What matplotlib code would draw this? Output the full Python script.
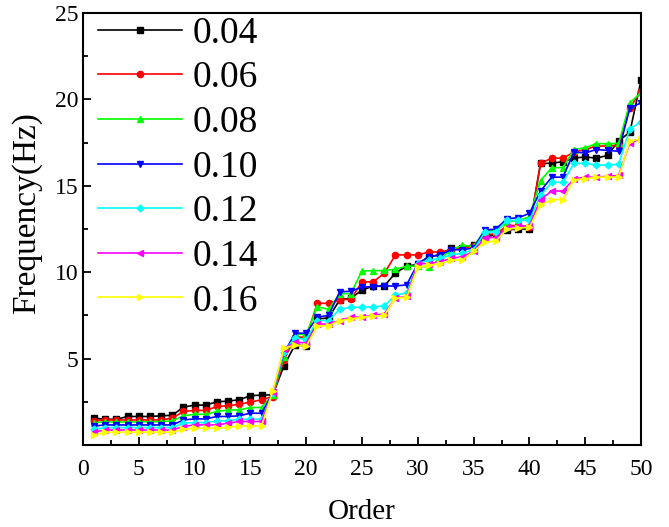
import matplotlib
matplotlib.use("Agg")
import matplotlib.pyplot as plt
from matplotlib.ticker import MultipleLocator

orders = list(range(1, 51))

f_004 = [1.55, 1.49, 1.49, 1.65, 1.65, 1.65, 1.69, 1.72, 2.19, 2.31,
         2.31, 2.50, 2.54, 2.62, 2.85, 2.89, 2.90, 4.57, 5.80, 5.72,
         7.30, 7.35, 8.40, 8.50, 8.96, 9.20, 9.20, 9.96, 10.35, 10.45,
         10.90, 11.00, 11.40, 11.40, 11.60, 12.00, 12.20, 12.45, 12.50, 12.50,
         16.30, 16.30, 16.40, 16.60, 16.67, 16.60, 16.76, 17.60, 18.10, 21.10]
f_006 = [1.41, 1.45, 1.45, 1.45, 1.45, 1.45, 1.45, 1.55, 1.94, 2.00,
         2.00, 2.23, 2.27, 2.36, 2.48, 2.62, 2.80, 4.90, 6.24, 6.24,
         8.20, 8.20, 8.40, 8.44, 9.44, 9.44, 9.94, 11.00, 11.00, 11.00,
         11.17, 11.17, 11.30, 11.40, 11.50, 12.20, 12.20, 12.70, 12.70, 12.60,
         16.30, 16.60, 16.60, 16.95, 17.10, 17.30, 17.30, 17.35, 19.50, 20.50]
f_008 = [1.30, 1.33, 1.33, 1.33, 1.33, 1.35, 1.35, 1.40, 1.69, 1.78,
         1.78, 1.94, 2.03, 2.03, 2.17, 2.17, 2.90, 5.10, 6.40, 6.40,
         8.00, 7.85, 8.76, 8.76, 10.08, 10.08, 10.10, 10.17, 10.35, 10.35,
         10.30, 10.80, 11.30, 11.55, 11.50, 12.40, 12.40, 12.90, 13.00, 13.20,
         15.30, 16.05, 16.05, 17.10, 17.20, 17.44, 17.44, 17.45, 19.80, 20.40]
f_010 = [1.10, 1.16, 1.16, 1.16, 1.16, 1.16, 1.16, 1.16, 1.45, 1.51,
         1.51, 1.65, 1.65, 1.69, 1.84, 1.84, 3.00, 5.30, 6.47, 6.47,
         7.40, 7.50, 8.86, 8.90, 9.13, 9.17, 9.20, 9.20, 9.27, 10.50,
         10.90, 11.00, 11.30, 11.30, 11.40, 12.43, 12.50, 13.10, 13.15, 13.40,
         14.70, 15.50, 15.50, 16.95, 16.90, 17.10, 17.05, 17.00, 19.50, 19.80]
f_012 = [0.91, 1.01, 1.01, 1.01, 1.01, 1.01, 1.01, 1.01, 1.26, 1.30,
         1.30, 1.40, 1.40, 1.49, 1.49, 1.49, 3.00, 5.40, 6.20, 6.10,
         7.20, 7.20, 7.85, 7.97, 7.97, 8.00, 8.05, 8.67, 8.80, 10.50,
         10.70, 10.80, 11.00, 11.10, 11.30, 12.30, 12.35, 13.00, 13.00, 13.00,
         14.45, 15.20, 15.20, 16.30, 16.30, 16.20, 16.20, 16.25, 18.30, 18.70]
f_014 = [0.76, 0.87, 0.87, 0.87, 0.87, 0.87, 0.87, 0.87, 1.07, 1.16,
         1.16, 1.16, 1.26, 1.36, 1.36, 1.36, 3.05, 5.55, 5.95, 5.90,
         7.00, 7.00, 7.20, 7.40, 7.40, 7.50, 7.60, 8.50, 8.60, 10.50,
         10.50, 10.60, 10.80, 10.90, 11.20, 12.00, 12.00, 12.60, 12.65, 12.70,
         14.20, 14.70, 14.70, 15.40, 15.50, 15.50, 15.55, 15.60, 17.50, 17.70]
f_016 = [0.58, 0.74, 0.74, 0.74, 0.74, 0.74, 0.74, 0.74, 0.91, 0.97,
         0.97, 0.97, 1.03, 1.10, 1.10, 1.10, 3.10, 5.60, 5.78, 5.72,
         6.90, 6.90, 7.20, 7.30, 7.40, 7.45, 7.50, 8.50, 8.55, 10.30,
         10.40, 10.50, 10.70, 10.70, 11.20, 11.75, 11.80, 12.50, 12.55, 12.60,
         13.90, 14.20, 14.20, 15.35, 15.40, 15.50, 15.50, 15.50, 17.60, 17.70]

labels = ["0.04", "0.06", "0.08", "0.10", "0.12", "0.14", "0.16"]
series = [f_004, f_006, f_008, f_010, f_012, f_014, f_016]
colors = ["#000000", "#FF0000", "#00FF00", "#0000FF", "#00FFFF", "#FF00FF", "#FFFF00"]
markers = ["s", "o", "^", "v", "D", "<", ">"]

plt.rcParams["font.family"] = ["Liberation Serif", "DejaVu Serif"]

fig = plt.figure(figsize=(6.69, 5.27), dpi=100)
ax = fig.add_axes([83 / 669, 1 - 445 / 527, (641 - 83) / 669, (445 - 13) / 527])

for vals, lab, col, mk in zip(series, labels, colors, markers):
    ax.plot(orders, vals, color=col, marker=mk, markersize=4.5 if mk != "D" else 3.5,
            linewidth=1.2, label=lab)

ax.set_xlim(0, 50)
ax.set_ylim(0, 25)
ax.set_xticks(range(0, 51, 5))
ax.set_yticks([5, 10, 15, 20, 25])
ax.xaxis.set_minor_locator(MultipleLocator(2.5))
ax.yaxis.set_minor_locator(MultipleLocator(2.5))
ax.tick_params(which="both", direction="in", top=False, right=False, labelsize=17, width=1.3)
ax.tick_params(which="major", length=6)
ax.tick_params(which="minor", length=3.5)
ax.tick_params(axis="x", which="major", pad=10)
for sp in ax.spines.values():
    sp.set_linewidth(1.5)

ax.set_xlabel("Order", fontsize=21, labelpad=14)
ax.set_ylabel("Frequency(Hz)", fontsize=24)
ax.yaxis.set_label_coords(-0.074, 0.537)

ax.legend(loc="upper left", bbox_to_anchor=(0.0, 1.027), frameon=False, fontsize=27,
          handlelength=2.24, handletextpad=0.27, labelspacing=0.27, borderaxespad=0.0)

fig.savefig("out.png", dpi=100)
